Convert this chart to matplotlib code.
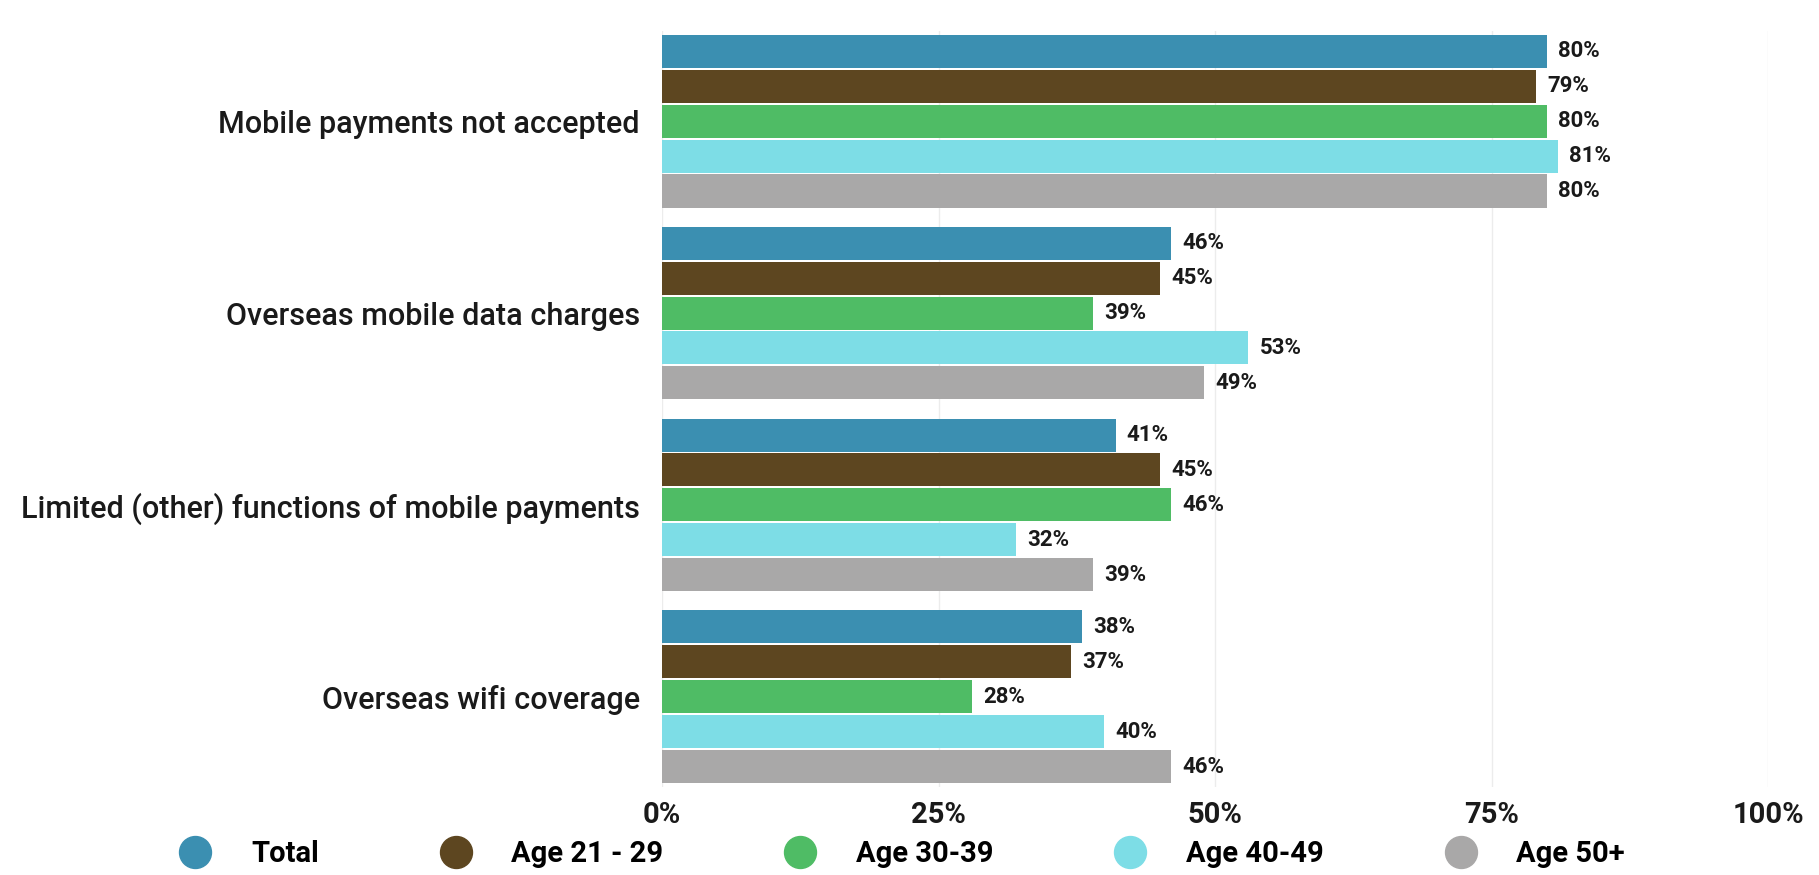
import matplotlib
matplotlib.use("Agg")
import matplotlib.pyplot as plt
from matplotlib.lines import Line2D
import numpy as np

categories = ["Mobile payments not accepted", "Overseas mobile data charges",
              "Limited (other) functions of mobile payments", "Overseas wifi coverage"]
series_names = ["Total", "Age 21 - 29", "Age 30-39", "Age 40-49", "Age 50+"]
total = [80, 46, 41, 38]
age_21_29 = [79, 45, 45, 37]
age_30_39 = [80, 39, 46, 28]
age_40_49 = [81, 53, 32, 40]
age_50_plus = [80, 49, 39, 46]
series_values = [total, age_21_29, age_30_39, age_40_49, age_50_plus]
xtick_values = [0, 25, 50, 75, 100]
xtick_labels = ["0%", "25%", "50%", "75%", "100%"]

colors = ["#3b8fb1", "#5d4620", "#4fbc65", "#7ddde6", "#a9a8a8"]

plt.rcParams['font.family'] = ['Roboto', 'DejaVu Sans']

fig = plt.figure(figsize=(18.19, 8.75), dpi=100)
ax = fig.add_axes([0.364, 0.1006, 0.608, 0.864])

pitch = 0.182
height = 0.172
for j, (name, vals, c) in enumerate(zip(series_names, series_values, colors)):
    ys = np.arange(len(categories)) + (j - 2) * pitch
    ax.barh(ys, vals, height=height, color=c, label=name, zorder=3)
    for y, v in zip(ys, vals):
        ax.annotate(f"{v}%", xy=(v, y), xytext=(8, 0), textcoords="offset points",
                    va="center", ha="left", fontsize=16, fontweight="bold",
                    color="#1a1a1a")

ax.set_ylim(3.47, -0.47)
ax.set_xlim(0, 100)
ax.set_yticks(np.arange(len(categories)))
ax.set_yticklabels(categories, fontsize=22, fontweight="medium", color="#1a1a1a")
ax.set_xticks(xtick_values)
ax.set_xticklabels(xtick_labels, fontsize=21, fontweight="bold", color="#1a1a1a")
ax.tick_params(axis="both", length=0)
ax.tick_params(axis="y", pad=16)
ax.tick_params(axis="x", pad=10)
for s in ax.spines.values():
    s.set_visible(False)
ax.grid(axis="x", color="#ececec", linewidth=1, zorder=0)

handles = [Line2D([0], [0], marker="o", linestyle="none", markersize=23,
                  markerfacecolor=c, markeredgecolor=c) for c in colors]
fig.legend(handles, series_names, loc="lower left", bbox_to_anchor=(0.077, -0.022),
           ncol=5, frameon=False, columnspacing=3.7, handletextpad=0.9,
           prop={"size": 21, "weight": "bold"})

fig.savefig("out.png", dpi=100, facecolor="white")
